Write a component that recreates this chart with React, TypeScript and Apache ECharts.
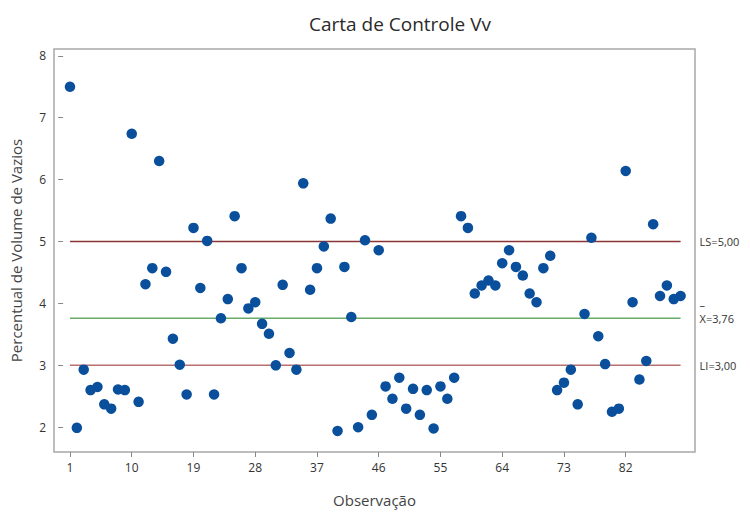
import React, { useEffect, useRef } from "react";
import * as echarts from "echarts";

const observations: number[] = Array.from({ length: 90 }, (_, i) => i + 1);
const values: number[] = [
  7.50, 1.99, 2.93, 2.60, 2.65, 2.37, 2.30, 2.61, 2.60, 6.74,
  2.41, 4.31, 4.57, 6.30, 4.51, 3.43, 3.01, 2.53, 5.22, 4.25,
  5.01, 2.53, 3.76, 4.07, 5.41, 4.57, 3.92, 4.02, 3.67, 3.51,
  3.00, 4.30, 3.20, 2.93, 5.94, 4.22, 4.57, 4.92, 5.37, 1.94,
  4.59, 3.78, 2.00, 5.02, 2.20, 4.86, 2.66, 2.46, 2.80, 2.30,
  2.62, 2.20, 2.60, 1.98, 2.66, 2.46, 2.80, 5.41, 5.22, 4.16,
  4.29, 4.37, 4.29, 4.65, 4.86, 4.59, 4.45, 4.16, 4.02, 4.57,
  4.77, 2.60, 2.72, 2.93, 2.37, 3.83, 5.06, 3.47, 3.02, 2.25,
  2.30, 6.14, 4.02, 2.77, 3.07, 5.28, 4.12, 4.29, 4.07, 4.12,
];
const xTicks: number[] = [1, 10, 19, 28, 37, 46, 55, 64, 73, 82];
const yTicks: number[] = [2, 3, 4, 5, 6, 7, 8];
const LS = 5.0;
const CENTER = 3.76;
const LI = 3.0;

const FONT = "'Open Sans', 'Noto Sans', sans-serif";

export default function App() {
  const ref = useRef<HTMLDivElement>(null);
  useEffect(() => {
    if (!ref.current) return;
    const chart = echarts.init(ref.current, null, { renderer: "svg" });
    const first = observations[0];
    const last = observations[observations.length - 1];
    const limitLine = (y: number, color: string, label: any) => ({
      lineStyle: { color, width: 1.5, type: "solid" },
      label: {
        show: true,
        color: "#333",
        fontSize: 11,
        fontFamily: FONT,
        align: "left",
        ...label,
      },
      coords: [
        [first, y],
        [last, y],
      ],
    });
    const lines = [
      limitLine(LS, "#8a3535", { formatter: "LS=5,00" }),
      limitLine(CENTER, "#6aab6a", {
        formatter: "{b|–}\n{a|X=3,76}",
        padding: [0, 0, 14, 0],
        rich: {
          b: { lineHeight: 14, fontSize: 11, color: "#333", fontFamily: FONT },
          a: { lineHeight: 14, fontSize: 11, color: "#333", fontFamily: FONT },
        },
      }),
      limitLine(LI, "#b87070", { formatter: "LI=3,00" }),
    ];
    chart.setOption({
      animation: false,
      title: {
        text: "Carta de Controle Vv",
        left: 395,
        top: 9,
        textAlign: "center",
        textStyle: { fontSize: 19, fontWeight: "normal", color: "#2a2a2a", fontFamily: FONT },
      },
      grid: {
        left: 54,
        right: 55,
        top: 49,
        bottom: 55,
        show: true,
        borderColor: "#a8a8a8",
        borderWidth: 1.5,
        backgroundColor: "#fff",
      },
      xAxis: {
        type: "value",
        min: -1.33,
        max: 92.1,
        name: "Observação",
        nameLocation: "middle",
        nameGap: 40,
        nameTextStyle: { fontSize: 15, color: "#444", fontFamily: FONT },
        axisLine: { show: false },
        splitLine: { show: false },
        axisTick: { show: true, customValues: xTicks, length: 5, lineStyle: { color: "#888" } },
        axisLabel: { customValues: xTicks, fontSize: 12, color: "#333", fontFamily: FONT, margin: 9 },
      },
      yAxis: {
        type: "value",
        min: 1.6,
        max: 8.11,
        name: "Percentual de Volume de Vazios",
        nameLocation: "middle",
        nameGap: 31,
        nameTextStyle: { fontSize: 15, color: "#444", fontFamily: FONT },
        axisLine: { show: false },
        splitLine: { show: false },
        axisTick: { show: true, customValues: yTicks, length: 5, lineStyle: { color: "#888" } },
        axisLabel: { customValues: yTicks, fontSize: 12, color: "#333", fontFamily: FONT, margin: 8 },
      },
      series: [
        {
          type: "scatter",
          data: observations.map((o, i) => [o, values[i]]),
          symbol: "circle",
          symbolSize: 10.5,
          itemStyle: { color: "#0a4f9c", opacity: 1 },
          z: 3,
        },
        ...lines.map((l) => ({
          type: "line",
          data: l.coords,
          symbol: "none",
          lineStyle: l.lineStyle,
          silent: true,
          z: 2,
          endLabel: { show: true, ...l.label, distance: 19 },
        })),
      ],
    });
    return () => chart.dispose();
  }, []);
  return <div ref={ref} style={{ width: 750, height: 512, position: "absolute", left: 0, top: 0 }} />;
}
